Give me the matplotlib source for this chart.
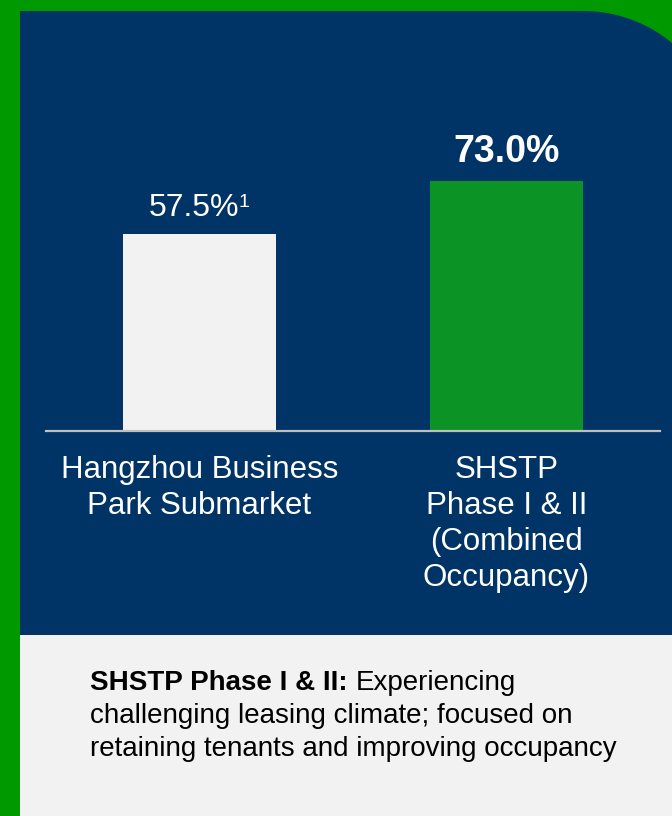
import numpy as np
import matplotlib
matplotlib.use('Agg')
import matplotlib.pyplot as plt
from matplotlib.patches import Rectangle, Polygon

plt.rcParams['font.family'] = ['Liberation Sans', 'DejaVu Sans']

# Datos del grafico
categories = ['Hangzhou Business\nPark Submarket',
              'SHSTP\nPhase I & II\n(Combined\nOccupancy)']
occupancy = [57.5, 73.0]
value_labels = ['57.5%', '73.0%']
footnotes = ['1', '']
note_bold = 'SHSTP Phase I & II:'
note_rest = ['Experiencing',
             'challenging leasing climate; focused on',
             'retaining tenants and improving occupancy']

# Estilos
bar_colors = ['#F2F2F2', '#0B9326']
label_sizes = [23, 27]
label_weights = ['normal', 'bold']
navy = '#003366'
green = '#009900'
light = '#F2F2F2'

W, H = 672, 816
fig = plt.figure(figsize=(W / 100, H / 100), dpi=100)
fig.patch.set_facecolor(green)

# Fondo: panel azul con esquina redondeada y panel gris abajo
bg = fig.add_axes([0, 0, 1, 1])
bg.set_xlim(0, W)
bg.set_ylim(H, 0)
bg.axis('off')

r = 140
cx, cy = 583, 11 + r
t = np.linspace(np.pi / 2, 0, 60)
arc = np.column_stack([cx + r * np.cos(t), cy - r * np.sin(t)])
pts = np.vstack([[[20, 636], [20, 11]], arc, [[cx + r, 636]]])
bg.add_patch(Polygon(pts, closed=True, facecolor=navy, edgecolor='none'))
bg.add_patch(Rectangle((20, 635), W - 20, H - 635, facecolor=light, edgecolor='none'))

# Barras
ax = fig.add_axes([46 / W, (H - 431) / H, 614 / W, 420 / H])
ax.set_xlim(-0.5, 1.5)
ax.set_ylim(0, 420 / 3.425)
ax.patch.set_alpha(0)
ax.bar(range(len(occupancy)), occupancy, width=0.5, color=bar_colors)
for s in ['top', 'left', 'right']:
    ax.spines[s].set_visible(False)
ax.spines['bottom'].set_color('#BFBFBF')
ax.spines['bottom'].set_linewidth(1.6)
ax.set_xticks([])
ax.set_yticks([])

renderer = fig.canvas.get_renderer()

# Etiquetas de valores
for i, v in enumerate(occupancy):
    dx = -6 if footnotes[i] else 0
    dy = 18 if footnotes[i] else 19
    t_lab = ax.annotate(value_labels[i], xy=(i, v), xytext=(dx, dy),
                        textcoords='offset pixels', ha='center', va='baseline',
                        fontsize=label_sizes[i], fontweight=label_weights[i],
                        color='white')
    if footnotes[i]:
        bb = t_lab.get_window_extent(renderer)
        px = ax.transData.transform((i, v))[0]
        ax.annotate(footnotes[i], xy=(i, v), xytext=(bb.x1 - px, 27),
                    textcoords='offset pixels', ha='left', va='baseline',
                    fontsize=14, color='white')

# Etiquetas de categorias
for i, cat in enumerate(categories):
    for j, line in enumerate(cat.split('\n')):
        ax.annotate(line, xy=(i, 0), xytext=(0, -(47 + 36 * j)),
                    textcoords='offset pixels', ha='center', va='baseline',
                    fontsize=22.5, color='white', annotation_clip=False)

# Nota inferior
tb = bg.text(90, 690, note_bold, fontsize=20, fontweight='bold',
             va='baseline', ha='left', color='black')
bb = tb.get_window_extent(renderer)
x_end = bg.transData.inverted().transform((bb.x1, bb.y0))[0]
bg.text(x_end + 8, 690, note_rest[0], fontsize=20, va='baseline', ha='left', color='black')
for k, line in enumerate(note_rest[1:]):
    bg.text(90, 723 + 33.5 * k, line, fontsize=20, va='baseline', ha='left', color='black')

fig.savefig('out.png', dpi=100, facecolor=fig.get_facecolor())
